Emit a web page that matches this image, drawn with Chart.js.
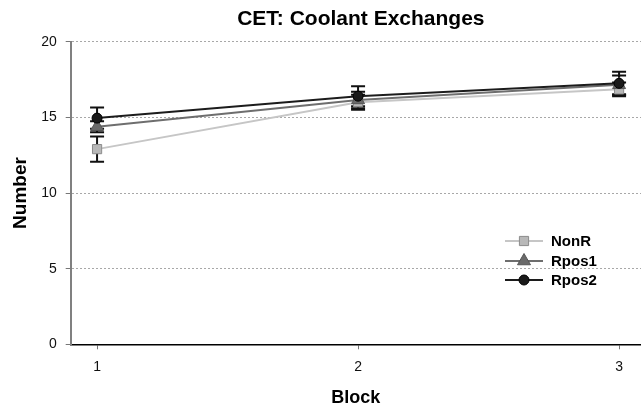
<!DOCTYPE html>
<html>
<head>
<meta charset="utf-8">
<title>CET: Coolant Exchanges</title>
<script src="https://cdn.jsdelivr.net/npm/chart.js@4.4.1/dist/chart.umd.min.js"></script>
<style>
    html, body { margin: 0; padding: 0; background: #ffffff; }
</style>
</head>
<body>
<canvas id="cetChart" width="641" height="412"></canvas>
<script>
// --- Data ---
const blocks = [1, 2, 3];
const seriesNames = ['NonR', 'Rpos1', 'Rpos2'];
const nonR = [12.9, 16.0, 16.85];
const nonRErr = [0.83, 0.5, 0.45];
const rpos1 = [14.38, 16.15, 17.15];
const rpos1Err = [0.37, 0.55, 0.62];
const rpos2 = [14.95, 16.4, 17.25];
const rpos2Err = [0.7, 0.66, 0.77];

const chartTitle = 'CET: Coolant Exchanges';
const FONT = "'Liberation Sans', Arial, sans-serif";

function toPoints(values) {
    return blocks.map((b, i) => ({ x: b, y: values[i] }));
}

// --- Error bars, drawn under the markers ---
const errorBarPlugin = {
    id: 'errorBars',
    beforeDatasetsDraw(chart) {
        const ctx = chart.ctx;
        const xs = chart.scales.x;
        const ys = chart.scales.y;
        ctx.save();
        ctx.strokeStyle = '#111111';
        ctx.lineWidth = 2;
        chart.data.datasets.forEach(ds => {
            ds.data.forEach((p, i) => {
                const err = ds.errors[i];
                const px = xs.getPixelForValue(p.x);
                const top = ys.getPixelForValue(p.y + err);
                const bot = ys.getPixelForValue(p.y - err);
                ctx.beginPath();
                ctx.moveTo(px, top); ctx.lineTo(px, bot);
                ctx.moveTo(px - 7, top); ctx.lineTo(px + 7, top);
                ctx.moveTo(px - 7, bot); ctx.lineTo(px + 7, bot);
                ctx.stroke();
            });
        });
        ctx.restore();
    }
};

// --- Title, centred a little right of the canvas middle like the original ---
const titlePlugin = {
    id: 'offsetTitle',
    afterDraw(chart) {
        const ctx = chart.ctx;
        ctx.save();
        ctx.fillStyle = '#000000';
        ctx.font = 'bold 21px ' + FONT;
        ctx.textAlign = 'center';
        ctx.textBaseline = 'middle';
        ctx.fillText(chartTitle, (chart.chartArea.left + chart.chartArea.right) / 2 + 5, 19);
        ctx.restore();
    }
};

// --- Legend inside the plot area ---
function drawMarker(ctx, style, x, y, r) {
    ctx.beginPath();
    if (style === 'rect') {
        const s = r * Math.SQRT1_2;
        ctx.rect(x - s, y - s, 2 * s, 2 * s);
    } else if (style === 'triangle') {
        ctx.moveTo(x, y - r);
        ctx.lineTo(x + r * 0.866, y + r * 0.5);
        ctx.lineTo(x - r * 0.866, y + r * 0.5);
        ctx.closePath();
    } else {
        ctx.arc(x, y, r, 0, Math.PI * 2);
    }
    ctx.fill();
    ctx.stroke();
}

const legendPlugin = {
    id: 'insideLegend',
    afterDraw(chart) {
        const ctx = chart.ctx;
        const x0 = 505, x1 = 543, textX = 551;
        const rows = [241, 261, 280];
        ctx.save();
        chart.data.datasets.forEach((ds, i) => {
            const y = rows[i];
            ctx.strokeStyle = ds.borderColor;
            ctx.lineWidth = 2;
            ctx.beginPath();
            ctx.moveTo(x0, y); ctx.lineTo(x1, y);
            ctx.stroke();
            ctx.fillStyle = ds.pointBackgroundColor;
            ctx.strokeStyle = ds.pointBorderColor;
            ctx.lineWidth = 1;
            drawMarker(ctx, ds.pointStyle, (x0 + x1) / 2, y, ds.pointRadius);
            ctx.fillStyle = '#000000';
            ctx.font = 'bold 15px ' + FONT;
            ctx.textBaseline = 'middle';
            ctx.textAlign = 'left';
            ctx.fillText(ds.label, textX, y + 1);
        });
        ctx.restore();
    }
};

const datasets = [
    {
        label: seriesNames[0],
        data: toPoints(nonR),
        errors: nonRErr,
        borderColor: '#c6c6c6',
        borderWidth: 2,
        pointStyle: 'rect',
        pointRadius: 6.5,
        pointBackgroundColor: '#b8b8b8',
        pointBorderColor: '#8c8c8c',
        pointBorderWidth: 1,
        order: 3
    },
    {
        label: seriesNames[1],
        data: toPoints(rpos1),
        errors: rpos1Err,
        borderColor: '#6e6e6e',
        borderWidth: 2,
        pointStyle: 'triangle',
        pointRadius: 7.5,
        pointBackgroundColor: '#6a6a6a',
        pointBorderColor: '#555555',
        pointBorderWidth: 1,
        order: 2
    },
    {
        label: seriesNames[2],
        data: toPoints(rpos2),
        errors: rpos2Err,
        borderColor: '#1c1c1c',
        borderWidth: 2,
        pointStyle: 'circle',
        pointRadius: 5,
        pointBackgroundColor: '#1a1a1a',
        pointBorderColor: '#000000',
        pointBorderWidth: 1,
        order: 1
    }
];

const config = {
    type: 'line',
    data: { datasets: datasets },
    options: {
        responsive: false,
        animation: false,
        devicePixelRatio: 1,
        layout: { autoPadding: false, padding: { top: 41.7, left: 0, right: 0, bottom: 0 } },
        elements: { line: { tension: 0 } },
        plugins: {
            legend: { display: false },
            tooltip: { enabled: false },
            title: { display: false }
        },
        scales: {
            x: {
                type: 'linear',
                min: 0.899,
                max: 3.084,
                afterBuildTicks: scale => {
                    scale.ticks = blocks.map(v => ({ value: v }));
                },
                afterFit: scale => { scale.height = 67.7; },
                ticks: {
                    color: '#111111',
                    font: { family: FONT, size: 14 },
                    padding: 9,
                    maxRotation: 0,
                    callback: v => String(v)
                },
                grid: {
                    drawOnChartArea: false,
                    drawTicks: true,
                    tickLength: 5,
                    tickColor: '#777777',
                    tickWidth: 1
                },
                border: { color: '#000000', width: 1.5 },
                title: {
                    display: true,
                    text: 'Block',
                    color: '#000000',
                    font: { family: FONT, size: 18, weight: 'bold' },
                    padding: { top: 0, bottom: 3 }
                }
            },
            y: {
                min: 0,
                max: 20,
                afterFit: scale => { scale.width = 70.7; },
                ticks: {
                    stepSize: 5,
                    color: '#111111',
                    font: { family: FONT, size: 14 },
                    padding: 9
                },
                grid: {
                    color: c => (c.tick && c.tick.value === 0) ? 'rgba(0,0,0,0)' : '#a8a8a8',
                    lineWidth: 1,
                    tickLength: 5,
                    tickColor: '#777777',
                    tickBorderDash: []
                },
                border: { color: '#808080', width: 2, dash: [2, 2] },
                title: {
                    display: true,
                    text: 'Number',
                    color: '#000000',
                    font: { family: FONT, size: 19, weight: 'bold' },
                    padding: { top: 9, bottom: 0 }
                }
            }
        }
    },
    plugins: [errorBarPlugin, legendPlugin, titlePlugin]
};

new Chart(document.getElementById('cetChart').getContext('2d'), config);
</script>
</body>
</html>
